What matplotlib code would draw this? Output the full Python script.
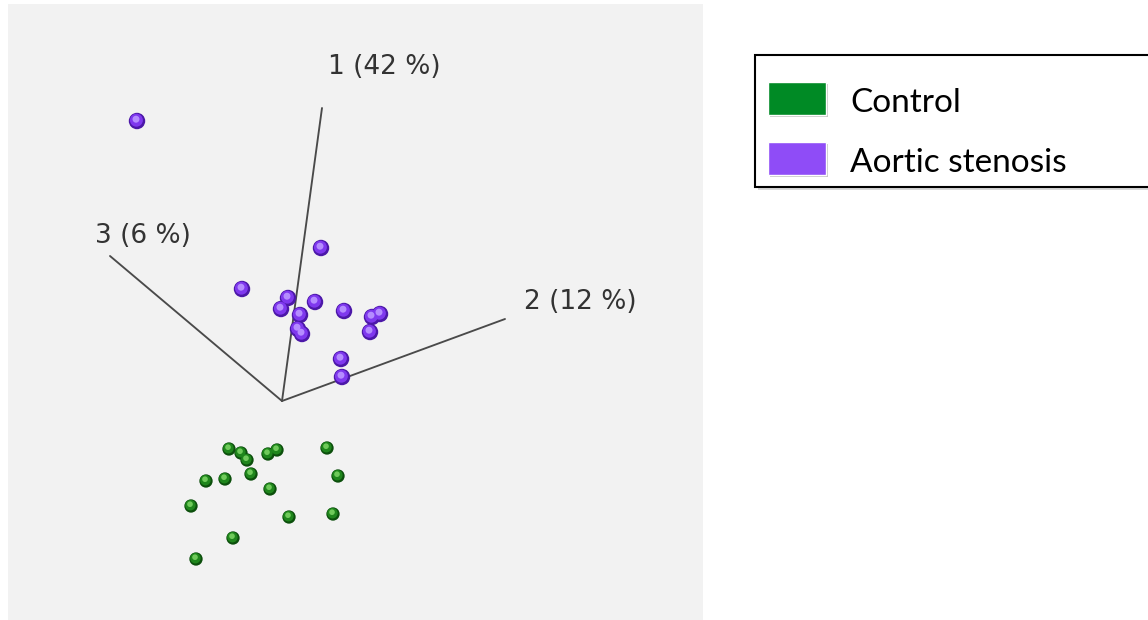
import matplotlib
matplotlib.use("Agg")
import matplotlib.pyplot as plt
from matplotlib.patches import Rectangle

# ---- data (projected 2-D screen positions of the 3-D PCA scores) ----
groups = ["Control", "Aortic stenosis"]
group_colors = ["#008a25", "#8f4cf7"]

control_x = [229, 241, 247, 268, 277, 327, 206, 225, 251, 338, 270, 191, 289, 333, 233, 196]
control_y = [449, 453, 460, 454, 450, 448, 481, 479, 474, 476, 489, 506, 517, 514, 538, 559]

stenosis_x = [137, 321, 242, 288, 281, 315, 300, 344, 372, 380, 370, 298, 302, 341, 342]
stenosis_y = [121, 248, 289, 298, 309, 302, 315, 311, 317, 314, 332, 329, 334, 359, 377]

axis_labels = ["1 (42 %)", "2 (12 %)", "3 (6 %)"]
origin = (282, 401)
axis_end_x = [322, 505, 110]
axis_end_y = [108, 319, 256]
label_x = [328, 524, 95]
label_y = [67, 302, 236]

W, H, DPI = 1148, 620, 100
fig = plt.figure(figsize=(W / DPI, H / DPI), dpi=DPI)
fig.patch.set_facecolor("white")

# panel axes in screen-pixel units
px0, px1, py0, py1 = 8, 703, 4, 620
ax = fig.add_axes([px0 / W, 1 - py1 / H, (px1 - px0) / W, (py1 - py0) / H])
ax.set_xlim(px0, px1)
ax.set_ylim(py1, py0)
ax.set_facecolor("#f2f2f2")
for s in ax.spines.values():
    s.set_visible(False)
ax.set_xticks([])
ax.set_yticks([])

# principal component axes
for ex, ey, lab, lx, ly in zip(axis_end_x, axis_end_y, axis_labels, label_x, label_y):
    ax.plot([origin[0], ex], [origin[1], ey], color="#4a4a4a", lw=1.35,
            solid_capstyle="round", zorder=2)
    ax.text(lx, ly, lab, fontsize=19, color="#333333", family="DejaVu Sans",
            ha="left", va="center", zorder=2)


def spheres(xs, ys, size, dark, mid, light, z):
    ax.scatter(xs, ys, s=size, c=dark, edgecolors="none", zorder=z)
    ax.scatter([x - 0.6 for x in xs], [y - 0.8 for y in ys], s=size * 0.62,
               c=mid, edgecolors="none", zorder=z + 0.1)
    ax.scatter([x - 1.0 for x in xs], [y - 1.8 for y in ys], s=size * 0.18,
               c=light, edgecolors="none", zorder=z + 0.2)


spheres(control_x, control_y, 92, "#0c4f0c", "#1f861c", "#6fca5a", 3)
spheres(stenosis_x, stenosis_y, 140, "#4c18a8", "#7f38ee", "#b58cff", 4)

# legend (screen-pixel overlay)
lg = fig.add_axes([0, 0, 1, 1], facecolor="none")
lg.set_xlim(0, W)
lg.set_ylim(H, 0)
lg.axis("off")
lg.add_patch(Rectangle((758, 58), 400, 132, facecolor="#d8d8d8", edgecolor="none", zorder=0))
lg.add_patch(Rectangle((755, 55), 400, 132, facecolor="white", edgecolor="black", lw=1.5, zorder=1))
for i, (name, col) in enumerate(zip(groups, group_colors)):
    yc = 98 + i * 60
    lg.add_patch(Rectangle((770, yc - 14), 58, 33, facecolor="#c8c8c8", edgecolor="none", zorder=2))
    lg.add_patch(Rectangle((768, yc - 16), 58, 33, facecolor=col, edgecolor="white", lw=1, zorder=3))
    lg.text(850, yc + 5, name, fontsize=24, family="Lato", color="black",
            ha="left", va="center", zorder=3)

fig.savefig("out.png", dpi=DPI)
